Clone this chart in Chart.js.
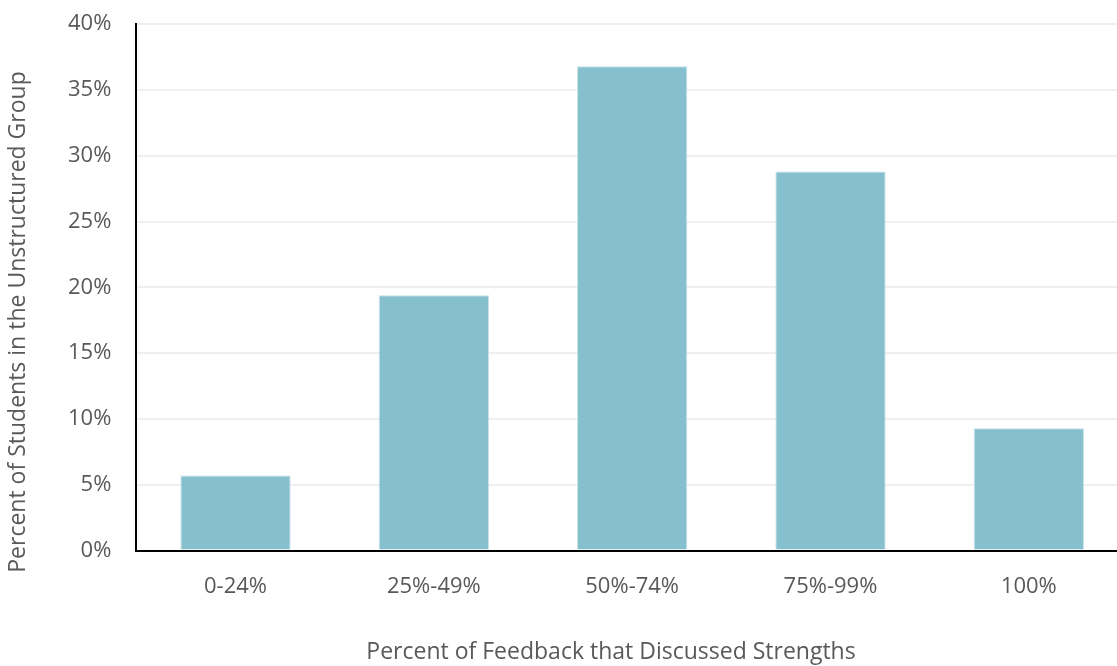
<!DOCTYPE html>
<html>
<head>
<meta charset="utf-8">
<script src="https://cdn.jsdelivr.net/npm/chart.js@4/dist/chart.umd.min.js"></script>
<style>
  html, body { margin: 0; padding: 0; background: #fff; overflow: hidden; }
  #wrap { width: 1117px; height: 666px; overflow: hidden; position: relative; }
  #box { width: 1130px; height: 680px; position: absolute; left: 0; top: -14px; }
</style>
</head>
<body>
<div id="wrap"><div id="box"><canvas id="c"></canvas></div></div>
<script>
const categories = ['0-24%', '25%-49%', '50%-74%', '75%-99%', '100%'];
const studentShare = [5.7, 19.4, 36.8, 28.8, 9.3];
const yTicks = [0, 5, 10, 15, 20, 25, 30, 35, 40];
const xTitle = 'Percent of Feedback that Discussed Strengths';
const yTitle = 'Percent of Students in the Unstructured Group';

const textColor = '#595959';
const fontFamily = '"Open Sans", "Noto Sans", sans-serif';
const fontSize = 22;
const titleSize = 23;

// Axis titles drawn at fixed offsets from the canvas edges
const axisTitles = {
  id: 'axisTitles',
  afterDraw(chart) {
    const ctx = chart.ctx;
    ctx.save();
    ctx.fillStyle = textColor;
    ctx.font = titleSize + 'px ' + fontFamily;
    ctx.textAlign = 'center';
    ctx.textBaseline = 'middle';
    ctx.fillText(xTitle, 611, chart.height - 14);
    ctx.translate(18, 336);
    ctx.rotate(-Math.PI / 2);
    ctx.fillText(yTitle, 0, 0);
    ctx.restore();
  }
};

new Chart(document.getElementById('c'), {
  type: 'bar',
  data: {
    labels: categories,
    datasets: [{
      data: studentShare,
      backgroundColor: 'rgb(134,191,205)',
      borderColor: 'rgba(190,222,230,0.9)',
      borderWidth: 1,
      categoryPercentage: 1,
      barPercentage: 0.556
    }]
  },
  plugins: [axisTitles],
  options: {
    responsive: true,
    maintainAspectRatio: false,
    animation: false,
    layout: { padding: { top: 0, right: 2, left: 43, bottom: 43 } },
    plugins: { legend: { display: false }, tooltip: { enabled: false } },
    scales: {
      x: {
        grid: { display: false, drawTicks: false },
        border: { color: '#000', width: 2 },
        ticks: { color: textColor, font: { family: fontFamily, size: fontSize }, padding: 23 }
      },
      y: {
        min: 0,
        max: 40,
        afterBuildTicks: (axis) => { axis.ticks = yTicks.map(v => ({ value: v })); },
        grid: { color: '#efefef', lineWidth: 2, drawTicks: false },
        border: { color: '#000', width: 2 },
        ticks: {
          color: textColor,
          font: { family: fontFamily, size: fontSize },
          padding: 25,
          callback: (v) => v + '%'
        }
      }
    }
  }
});
</script>
</body>
</html>
